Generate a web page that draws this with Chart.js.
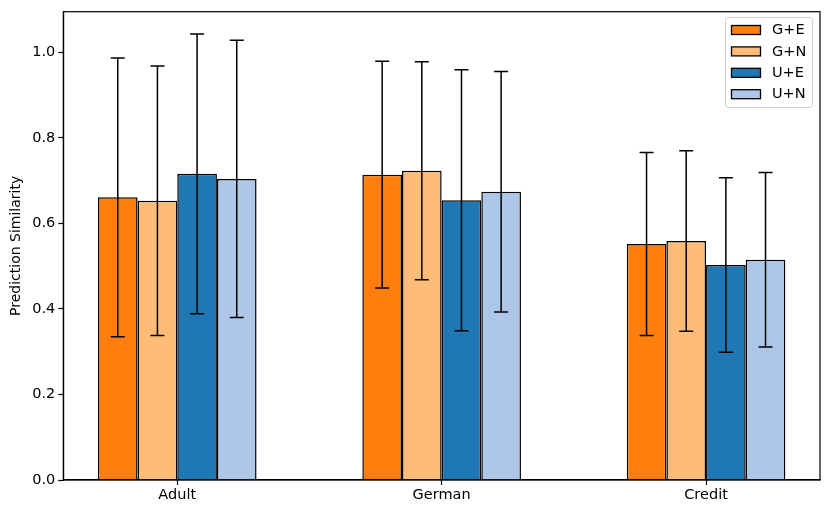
<!DOCTYPE html>
<html>
<head>
<meta charset="utf-8">
<script src="https://cdn.jsdelivr.net/npm/chart.js@4"></script>
<style>
html,body{margin:0;padding:0;background:#fff;}
#wrap{width:831px;height:515px;}
</style>
</head>
<body>
<div id="wrap"><canvas id="c" width="831" height="515"></canvas></div>
<script>
const categories = ["Adult", "German", "Credit"];
const seriesNames = ["G+E", "G+N", "U+E", "U+N"];
const seriesColors = ["#ff7f0e", "#ffbb78", "#1f77b4", "#aec7e8"];
const geMean = [0.661, 0.714, 0.552];
const gnMean = [0.653, 0.723, 0.559];
const ueMean = [0.716, 0.654, 0.503];
const unMean = [0.704, 0.674, 0.515];
const geErr = [0.326, 0.265, 0.214];
const gnErr = [0.315, 0.255, 0.211];
const ueErr = [0.327, 0.305, 0.204];
const unErr = [0.324, 0.281, 0.204];
const yTicks = [0, 0.2, 0.4, 0.6, 0.8, 1.0];

const means = [geMean, gnMean, ueMean, unMean];
const errs = [geErr, gnErr, ueErr, unErr];
const FONT = "'DejaVu Sans', sans-serif";

const datasets = seriesNames.map((name, s) => ({
  label: name,
  data: categories.map((c, i) => ({x: i, y: means[s][i]})),
  backgroundColor: seriesColors[s],
  borderColor: "#000",
  borderWidth: 1.5,
  borderSkipped: "bottom",
  categoryPercentage: 0.6,
  barPercentage: 1.0,
  errors: errs[s]
}));

const errorBarPlugin = {
  id: "errorBars",
  afterDatasetsDraw(chart) {
    const ctx = chart.ctx;
    const y = chart.scales.y;
    ctx.save();
    ctx.strokeStyle = "#000";
    ctx.lineWidth = 1.5;
    chart.data.datasets.forEach((ds, di) => {
      const meta = chart.getDatasetMeta(di);
      meta.data.forEach((bar, i) => {
        const m = ds.data[i].y, e = ds.errors[i];
        const x = bar.x;
        const yt = y.getPixelForValue(m + e), yb = y.getPixelForValue(m - e);
        ctx.beginPath();
        ctx.moveTo(x, yt); ctx.lineTo(x, yb);
        ctx.moveTo(x - 7, yt); ctx.lineTo(x + 7, yt);
        ctx.moveTo(x - 7, yb); ctx.lineTo(x + 7, yb);
        ctx.stroke();
      });
    });
    ctx.restore();
  },
  afterDraw(chart) {
    const ctx = chart.ctx;
    const a = chart.chartArea;
    ctx.save();
    ctx.strokeStyle = "#000";
    ctx.lineWidth = 1.2;
    ctx.strokeRect(a.left, a.top, a.right - a.left, a.bottom - a.top);
    // legend
    const lx = 725.5, ly = 17.5, lw = 87, lh = 90;
    ctx.fillStyle = "rgba(255,255,255,0.8)";
    ctx.strokeStyle = "#cccccc";
    ctx.lineWidth = 1;
    ctx.beginPath();
    if (ctx.roundRect) ctx.roundRect(lx, ly, lw, lh, 3); else ctx.rect(lx, ly, lw, lh);
    ctx.fill(); ctx.stroke();
    ctx.font = "14.5px " + FONT;
    ctx.textBaseline = "middle";
    ctx.textAlign = "left";
    chart.data.datasets.forEach((ds, i) => {
      const cy = 30 + i * 21.4;
      ctx.fillStyle = ds.backgroundColor;
      ctx.fillRect(731.5, cy - 4.5, 29, 9);
      ctx.strokeStyle = "#000";
      ctx.lineWidth = 1.3;
      ctx.strokeRect(731.5, cy - 4.5, 29, 9);
      ctx.fillStyle = "#000";
      ctx.fillText(ds.label, 772, cy + 0.5);
    });
    ctx.restore();
  }
};

new Chart(document.getElementById("c"), {
  type: "bar",
  data: {datasets},
  options: {
    responsive: false,
    animation: false,
    devicePixelRatio: 1,
    layout: {padding: {left: 0, right: 11, top: 10, bottom: 0}},
    plugins: {legend: {display: false}, tooltip: {enabled: false}},
    scales: {
      x: {
        type: "linear",
        min: -0.431,
        max: 2.431,
        offset: false,
        afterBuildTicks: (axis) => { axis.ticks = categories.map((c, i) => ({value: i})); },
        afterFit: (axis) => { axis.height = 35; },
        ticks: {
          callback: (v) => categories[v],
          color: "#000",
          font: {family: FONT, size: 14.5},
          padding: 2,
          maxRotation: 0,
          autoSkip: false
        },
        grid: {display: true, offset: false, drawOnChartArea: false, drawTicks: true, tickLength: 5, tickColor: "#000", tickWidth: 1.2},
        border: {display: true, color: "#000", width: 1.2}
      },
      y: {
        min: 0,
        max: 1.095,
        afterBuildTicks: (axis) => { axis.ticks = yTicks.map(v => ({value: v})); },
        afterFit: (axis) => { axis.width = 63.3; },
        ticks: {
          callback: (v) => v.toFixed(1),
          color: "#000",
          font: {family: FONT, size: 14.5},
          padding: 3
        },
        title: {
          display: true,
          text: "Prediction Similarity",
          color: "#000",
          font: {family: FONT, size: 14},
          padding: {top: 8, bottom: 0}
        },
        grid: {display: true, offset: false, drawOnChartArea: false, drawTicks: true, tickLength: 5, tickColor: "#000", tickWidth: 1.2},
        border: {display: true, color: "#000", width: 1.2}
      }
    }
  },
  plugins: [errorBarPlugin]
});
</script>
</body>
</html>
